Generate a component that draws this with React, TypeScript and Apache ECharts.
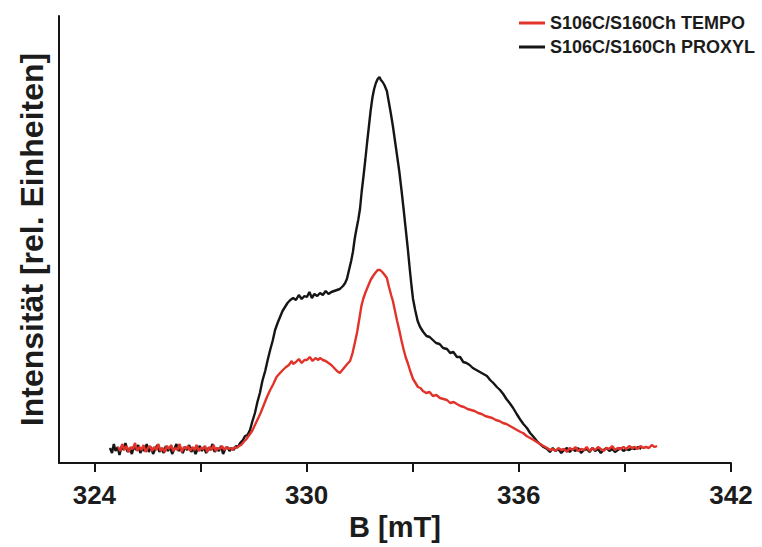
import React, { useEffect, useRef } from "react";
import * as echarts from "echarts";

const xTickValues = [324, 327, 330, 333, 336, 339, 342];
const xLabelValues = [324, 330, 336, 342];

const seriesNames = ["S106C/S160Ch TEMPO", "S106C/S160Ch PROXYL"];

// PROXYL (black) [B mT, intensity]
const proxylData: number[][] = [
  [324.44, 15], [324.5, 10], [324.55, 19], [324.6, 12], [324.66, 16], [324.71, 8], [324.77, 17], [324.83, 13],
  [324.88, 20], [324.94, 11], [325.0, 15], [325.06, 9], [325.12, 17], [325.18, 13], [325.24, 18], [325.3, 10],
  [325.36, 15], [325.42, 12], [325.48, 19], [325.54, 11], [325.6, 16], [325.66, 9], [325.72, 14], [325.78, 18],
  [325.84, 11], [325.9, 15], [325.96, 10], [326.02, 17], [326.08, 12], [326.14, 16], [326.2, 9], [326.26, 14],
  [326.32, 19], [326.38, 12], [326.44, 15], [326.5, 10], [326.56, 16], [326.62, 13], [326.68, 18], [326.74, 11],
  [326.8, 15], [326.86, 9], [326.92, 14], [326.98, 17], [327.04, 12], [327.1, 16], [327.16, 10], [327.22, 15],
  [327.28, 13], [327.34, 19], [327.4, 11], [327.46, 15], [327.52, 12], [327.58, 17], [327.64, 9], [327.7, 14],
  [327.76, 16], [327.82, 12], [327.88, 15], [327.94, 13], [328.0, 17], [328.06, 16], [328.12, 20],
  [328.2, 23], [328.26, 27], [328.33, 28], [328.4, 33], [328.47, 42], [328.54, 50], [328.61, 61], [328.68, 70],
  [328.75, 82], [328.83, 92], [328.9, 103], [328.97, 113], [329.04, 122], [329.11, 133], [329.18, 140], [329.25, 146],
  [329.32, 152], [329.39, 156], [329.46, 160], [329.54, 163], [329.62, 165], [329.7, 163], [329.78, 168], [329.86, 164],
  [329.94, 167], [330.01, 166], [330.08, 171], [330.15, 165], [330.22, 169], [330.3, 167], [330.38, 170], [330.46, 168],
  [330.54, 172], [330.62, 169], [330.7, 171], [330.78, 172], [330.86, 173], [330.94, 174], [331.03, 177], [331.09, 180],
  [331.14, 184], [331.2, 193], [331.26, 202], [331.31, 211], [331.36, 224], [331.41, 234], [331.46, 243], [331.51, 254],
  [331.56, 272], [331.61, 287], [331.66, 303], [331.71, 320], [331.76, 336], [331.81, 352], [331.86, 365], [331.91, 374],
  [331.96, 380], [332.01, 384], [332.06, 386], [332.1, 383], [332.15, 381], [332.2, 378], [332.27, 372], [332.33, 360],
  [332.38, 350], [332.44, 337], [332.5, 322], [332.56, 307], [332.62, 292], [332.68, 274], [332.74, 255], [332.8, 235],
  [332.86, 215], [332.92, 193], [332.97, 176], [333.01, 164], [333.07, 153], [333.14, 142], [333.21, 136], [333.3, 131],
  [333.39, 127], [333.48, 126], [333.57, 123], [333.66, 120], [333.76, 119], [333.86, 115], [333.97, 114], [334.06, 110],
  [334.15, 111], [334.25, 106], [334.34, 106], [334.43, 101], [334.52, 100], [334.61, 98], [334.7, 95], [334.8, 93],
  [334.9, 91], [335.0, 89], [335.1, 87], [335.19, 83], [335.28, 80], [335.38, 76], [335.47, 73], [335.56, 69],
  [335.65, 64], [335.74, 60], [335.84, 55], [335.94, 49], [336.03, 44], [336.13, 39], [336.23, 35], [336.32, 30],
  [336.42, 26], [336.51, 22], [336.6, 19], [336.7, 16],
  [336.8, 14], [336.88, 11], [336.96, 15], [337.04, 12], [337.12, 14], [337.2, 10], [337.28, 13], [337.36, 15],
  [337.44, 11], [337.52, 14], [337.6, 12], [337.68, 15], [337.76, 10], [337.84, 13], [337.92, 14], [338.0, 11],
  [338.08, 15], [338.16, 12], [338.24, 14], [338.32, 10], [338.4, 13], [338.48, 15], [338.56, 12], [338.64, 14],
  [338.72, 11], [338.8, 13], [338.88, 15], [338.96, 12], [339.04, 14], [339.12, 13], [339.2, 15], [339.28, 14],
  [339.38, 16], [339.46, 14],
];

// TEMPO (red) [B mT, intensity]
const tempoData: number[][] = [
  [324.67, 16], [324.73, 12], [324.79, 19], [324.85, 13], [324.91, 17], [324.97, 11], [325.03, 16], [325.09, 14],
  [325.15, 20], [325.21, 12], [325.27, 16], [325.33, 13], [325.39, 18], [325.45, 11], [325.51, 15], [325.57, 17],
  [325.63, 12], [325.69, 16], [325.75, 13], [325.81, 19], [325.87, 12], [325.93, 15], [325.99, 11], [326.05, 17],
  [326.11, 14], [326.17, 18], [326.23, 12], [326.29, 15], [326.35, 13], [326.41, 19], [326.47, 11], [326.53, 16],
  [326.59, 14], [326.65, 17], [326.71, 12], [326.77, 16], [326.83, 13], [326.89, 18], [326.95, 12], [327.01, 15],
  [327.07, 14], [327.13, 17], [327.19, 11], [327.25, 16], [327.31, 13], [327.37, 18], [327.43, 12], [327.49, 15],
  [327.55, 14], [327.61, 17], [327.67, 13], [327.73, 16], [327.79, 14], [327.85, 15], [327.91, 13], [327.97, 16],
  [328.03, 15], [328.09, 17],
  [328.15, 18], [328.22, 21], [328.3, 24], [328.38, 28], [328.46, 32], [328.54, 38], [328.62, 44], [328.7, 50],
  [328.79, 58], [328.88, 66], [328.97, 73], [329.06, 79], [329.15, 86], [329.25, 90], [329.33, 93], [329.42, 96],
  [329.5, 98], [329.58, 102], [329.62, 99], [329.7, 101], [329.78, 104], [329.86, 100], [329.94, 103], [330.01, 103],
  [330.09, 106], [330.17, 102], [330.25, 105], [330.33, 103], [330.38, 105], [330.46, 103], [330.54, 102], [330.62, 100],
  [330.7, 98], [330.78, 95], [330.86, 92], [330.94, 90], [331.01, 93], [331.08, 96], [331.15, 99], [331.23, 102],
  [331.3, 110], [331.37, 121], [331.43, 131], [331.5, 146], [331.55, 157], [331.6, 164], [331.67, 171], [331.74, 177],
  [331.81, 183], [331.88, 187], [331.94, 190], [332.01, 193], [332.08, 193], [332.14, 191], [332.21, 188], [332.27, 185],
  [332.33, 176], [332.39, 168], [332.44, 162], [332.5, 152], [332.56, 142], [332.62, 133], [332.68, 123], [332.74, 114],
  [332.8, 106], [332.86, 100], [332.93, 92], [333.01, 84], [333.08, 80], [333.15, 76], [333.22, 75], [333.29, 72],
  [333.38, 70], [333.48, 71], [333.57, 67], [333.67, 68], [333.77, 65], [333.87, 64], [333.97, 63], [334.06, 60],
  [334.16, 61], [334.25, 59], [334.35, 57], [334.45, 56], [334.55, 54], [334.65, 53], [334.75, 52], [334.85, 50],
  [334.95, 49], [335.05, 47], [335.15, 46], [335.25, 45], [335.35, 43], [335.45, 42], [335.55, 40], [335.65, 39],
  [335.75, 37], [335.85, 35], [335.95, 33], [336.05, 31], [336.12, 30], [336.22, 27], [336.32, 25], [336.42, 23],
  [336.51, 21], [336.6, 19], [336.7, 17], [336.8, 15],
  [336.88, 13], [336.96, 14], [337.04, 12], [337.12, 15], [337.2, 13], [337.28, 14], [337.36, 11], [337.44, 15],
  [337.52, 13], [337.6, 16], [337.68, 12], [337.76, 14], [337.84, 13], [337.92, 16], [338.0, 12], [338.08, 15],
  [338.16, 13], [338.24, 16], [338.32, 14], [338.4, 12], [338.48, 15], [338.56, 14], [338.64, 17], [338.72, 13],
  [338.8, 15], [338.88, 14], [338.96, 16], [339.04, 14], [339.12, 17], [339.2, 15], [339.28, 16], [339.36, 14],
  [339.44, 17], [339.52, 15], [339.6, 16], [339.68, 15], [339.76, 18], [339.84, 16], [339.91, 17],
];

const FONT = "'Liberation Sans', Arial, Helvetica, sans-serif";
const TEXT_COLOR = "#1c1c1c";
const RED = "#e2332b";
const BLACK = "#151515";

export default function App() {
  const ref = useRef<HTMLDivElement>(null);

  useEffect(() => {
    if (!ref.current) return;
    const chart = echarts.init(ref.current, undefined, { renderer: "svg" });
    chart.setOption({
      animation: false,
      backgroundColor: "#ffffff",
      grid: { left: 59, right: 31, top: 16, bottom: 84, containLabel: false },
      legend: {
        orient: "vertical",
        left: 514,
        top: 9,
        icon: "rect",
        itemWidth: 26,
        itemHeight: 3,
        itemGap: 6,
        data: seriesNames,
        textStyle: {
          fontFamily: FONT,
          fontWeight: "bold",
          fontSize: 18,
          lineHeight: 18,
          color: TEXT_COLOR,
        },
      },
      xAxis: {
        type: "value",
        min: 323,
        max: 342,
        name: "B [mT]",
        nameLocation: "middle",
        nameGap: 45,
        nameTextStyle: {
          fontFamily: FONT,
          fontWeight: "bold",
          fontSize: 29,
          color: TEXT_COLOR,
        },
        axisLine: { show: true, onZero: false, lineStyle: { color: BLACK, width: 2 } },
        axisTick: {
          show: true,
          length: 9,
          customValues: xTickValues,
          lineStyle: { color: BLACK, width: 2 },
        },
        axisLabel: {
          show: true,
          customValues: xLabelValues,
          margin: 19,
          fontFamily: FONT,
          fontWeight: "bold",
          fontSize: 26,
          color: TEXT_COLOR,
        },
        splitLine: { show: false },
      },
      yAxis: {
        type: "value",
        min: 0,
        max: 447,
        name: "Intensität [rel. Einheiten]",
        nameLocation: "middle",
        nameGap: 11,
        nameTextStyle: {
          fontFamily: FONT,
          fontWeight: "bold",
          fontSize: 32,
          color: TEXT_COLOR,
        },
        axisLine: { show: true, lineStyle: { color: BLACK, width: 2 } },
        axisTick: { show: false },
        axisLabel: { show: false },
        splitLine: { show: false },
      },
      series: [
        {
          name: seriesNames[1],
          type: "line",
          data: proxylData,
          showSymbol: false,
          lineStyle: { color: BLACK, width: 2.4 },
          itemStyle: { color: BLACK },
          z: 2,
        },
        {
          name: seriesNames[0],
          type: "line",
          data: tempoData,
          showSymbol: false,
          lineStyle: { color: RED, width: 2.4 },
          itemStyle: { color: RED },
          z: 3,
        },
      ],
    });
    return () => chart.dispose();
  }, []);

  return (
    <div
      ref={ref}
      style={{ position: "fixed", left: 0, top: 0, width: 762, height: 547 }}
    />
  );
}
